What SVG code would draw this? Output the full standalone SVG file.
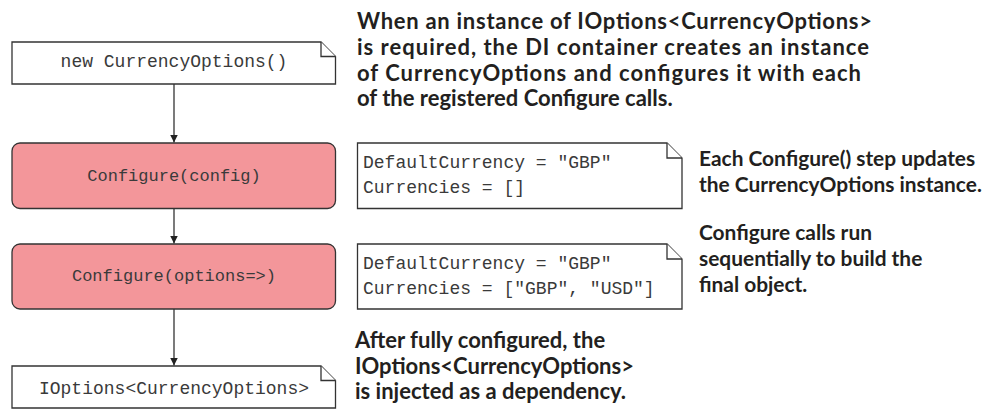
<svg xmlns="http://www.w3.org/2000/svg" width="985" height="409" viewBox="0 0 985 409">
<style>
.note{fill:#fff;stroke:#333;stroke-width:1.3}
.step{fill:#F3969A;stroke:#333;stroke-width:1.3}
.mono{font-family:"Liberation Mono","DejaVu Sans Mono",monospace;font-size:18px;fill:#3a3a3a}
.mono.s{font-size:17px}
.ann{font-family:Lato,"Open Sans",sans-serif;font-weight:bold;font-size:22px;fill:#231F20}
.ann.r{font-size:20.9px}
.conn{stroke:#333;stroke-width:1.3;fill:none}
</style>
<defs>
<marker id="arr" viewBox="0 0 10 10" refX="10" refY="5" markerWidth="8" markerHeight="14" markerUnits="userSpaceOnUse" orient="auto">
<path d="M0,0 L10,5 L0,10 Z" fill="#222"/>
</marker>
</defs>
<g id="connectors">
<line class="conn" x1="174" y1="84" x2="174" y2="142.5" marker-end="url(#arr)"/>
<line class="conn" x1="174" y1="208.5" x2="174" y2="243.5" marker-end="url(#arr)"/>
<line class="conn" x1="174" y1="309" x2="174" y2="365.5" marker-end="url(#arr)"/>
</g>
<g id="new-options">
<path class="note" d="M12,42 H321 L335.5,56.5 V84 H12 Z"/>
<path class="note" d="M321,42 V56.5 H335.5"/>
<text class="mono" x="174" y="67" text-anchor="middle">new CurrencyOptions()</text>
</g>
<g id="configure-config">
<rect class="step" x="12" y="143" width="323.5" height="65.5" rx="8"/>
<text class="mono s" x="174" y="181" text-anchor="middle">Configure(config)</text>
</g>
<g id="configure-options">
<rect class="step" x="12" y="244" width="323.5" height="65" rx="8"/>
<text class="mono s" x="174" y="281" text-anchor="middle">Configure(options=&gt;)</text>
</g>
<g id="ioptions">
<path class="note" d="M12,366 H321 L335.5,380.5 V408 H12 Z"/>
<path class="note" d="M321,366 V380.5 H335.5"/>
<text class="mono" x="174" y="394" text-anchor="middle">IOptions&lt;CurrencyOptions&gt;</text>
</g>
<g id="state1">
<path class="note" d="M357.5,143 H667 L682,158 V208.5 H357.5 Z"/>
<path class="note" d="M667,143 V158 H682"/>
<text class="mono" x="363" y="168">DefaultCurrency = "GBP"</text>
<text class="mono" x="363" y="193">Currencies = []</text>
</g>
<g id="state2">
<path class="note" d="M357.5,244 H667 L682,259 V309 H357.5 Z"/>
<path class="note" d="M667,244 V259 H682"/>
<text class="mono" x="363" y="269">DefaultCurrency = "GBP"</text>
<text class="mono" x="363" y="294">Currencies = ["GBP", "USD"]</text>
</g>
<g id="annotation-top">
<text class="ann" x="357" y="29" textLength="515" lengthAdjust="spacing">When an instance of IOptions&lt;CurrencyOptions&gt;</text>
<text class="ann" x="357" y="55" textLength="512" lengthAdjust="spacing">is required, the DI container creates an instance</text>
<text class="ann" x="357" y="80.5" textLength="504" lengthAdjust="spacing">of CurrencyOptions and configures it with each</text>
<text class="ann" x="357" y="106">of the registered Configure calls.</text>
</g>
<g id="annotation-step">
<text class="ann r" x="699" y="166">Each Configure() step updates</text>
<text class="ann r" x="699" y="191.5">the CurrencyOptions instance.</text>
</g>
<g id="annotation-seq">
<text class="ann r" x="699" y="240">Configure calls run</text>
<text class="ann r" x="699" y="266">sequentially to build the</text>
<text class="ann r" x="699" y="291.5">final object.</text>
</g>
<g id="annotation-final">
<text class="ann" x="355" y="348">After fully configured, the</text>
<text class="ann" x="355" y="373.5">IOptions&lt;CurrencyOptions&gt;</text>
<text class="ann" x="355" y="398.5">is injected as a dependency.</text>
</g>
</svg>
